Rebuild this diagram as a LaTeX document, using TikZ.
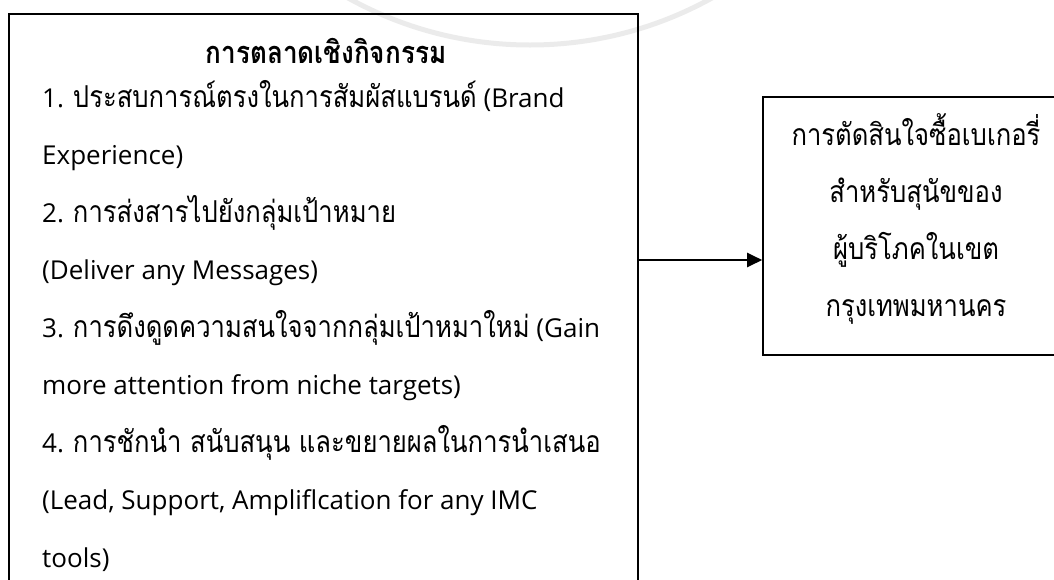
\documentclass[tikz,border=0pt]{standalone}
\usepackage{fontspec}
\setmainfont{Open Sans}
\newfontfamily\thaifont[Script=Thai, Scale=1.16, FakeStretch=0.85]{Loma}
\usetikzlibrary{arrows.meta}
\newcommand{\tht}[1]{{\thaifont #1}}
\begin{document}
\begin{tikzpicture}[x=1pt,y=-1pt,
  boxst/.style={draw, line width=1.6pt, inner sep=0pt},
  ltxt/.style={anchor=base west, inner sep=0pt, font=\fontsize{26}{30}\selectfont},
  ctxt/.style={anchor=base, inner sep=0pt, font=\fontsize{26}{30}\selectfont},
  arr/.style={line width=2.2pt, -{Triangle[length=15pt,width=14pt]}},
  wm/.style={draw=black!8, line width=5pt}]
\useasboundingbox (0,0) rectangle (1054,579);
\clip (0,0) rectangle (1054,579);
\draw[wm] (530,-330) circle (375);
\node[boxst, minimum width=629pt, minimum height=586pt] (leftbox) at (323.5,307) {};
\node[boxst, minimum width=327pt, minimum height=258pt] (rightbox) at (926.5,226) {};
\node[ctxt, font=\fontsize{26.5}{30}\selectfont\bfseries] (title) at (326,63) {\tht{การตลาดเชิงกิจกรรม}};
\node[ltxt] (l1) at (42,107) {1. \tht{ประสบการณ์ตรงในการสัมผัสแบรนด์} (Brand};
\node[ltxt] (l2) at (42,164.5) {Experience)};
\node[ltxt] (l3) at (42,222) {2. \tht{การส่งสารไปยังกลุ่มเป้าหมาย}};
\node[ltxt] (l4) at (42,279.5) {(Deliver any Messages)};
\node[ltxt] (l5) at (42,337) {3. \tht{การดึงดูดความสนใจจากกลุ่มเป้าหมาใหม่} (Gain};
\node[ltxt] (l6) at (42,394.5) {more attention from niche targets)};
\node[ltxt] (l7) at (42,452) {4. \tht{การชักนำ สนับสนุน และขยายผลในการนำเสนอ}};
\node[ltxt] (l8) at (42,509.5) {(Lead, Support, Ampliflcation for any IMC};
\node[ltxt] (l9) at (42,567) {tools)};
\node[ctxt] (r1) at (916,145) {\tht{การตัดสินใจซื้อเบเกอรี่}};
\node[ctxt] (r2) at (916,202) {\tht{สำหรับสุนัขของ}};
\node[ctxt] (r3) at (916,259) {\tht{ผู้บริโภคในเขต}};
\node[ctxt] (r4) at (916,316) {\tht{กรุงเทพมหานคร}};
\coordinate (ay) at (0,260);
\draw[arr] (leftbox.east |- ay) -- (rightbox.west |- ay);
\end{tikzpicture}
\end{document}
